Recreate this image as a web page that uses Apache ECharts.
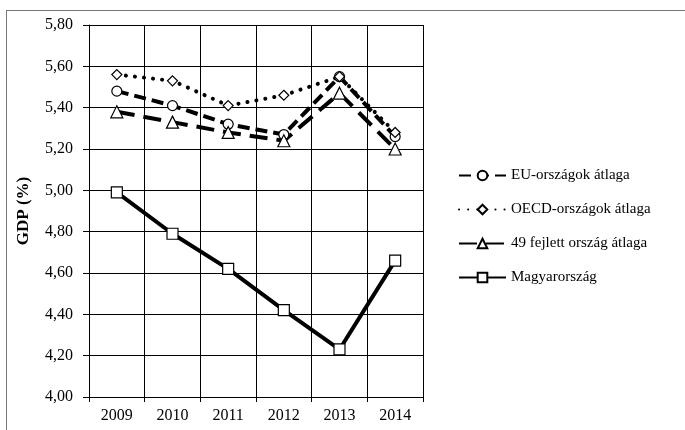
<!DOCTYPE html>
<html lang="hu">
<head>
<meta charset="UTF-8">
<title>GDP (%)</title>
<script src="https://cdn.jsdelivr.net/npm/echarts@6/dist/echarts.min.js"></script>
<style>
  html, body { margin: 0; padding: 0; background: #fff; }
  #frame { position: absolute; left: 6px; top: 10px; width: 700px; height: 440px; border: 1px solid #777; }
  #main { position: absolute; left: 0; top: 0; width: 685px; height: 430px; }
</style>
</head>
<body>
<div id="frame"></div>
<div id="main"></div>
<script>
  // adatok
  var years = ['2009', '2010', '2011', '2012', '2013', '2014'];
  var euAvg = [5.48, 5.41, 5.32, 5.27, 5.55, 5.26];
  var oecdAvg = [5.56, 5.53, 5.41, 5.46, 5.55, 5.28];
  var dev49Avg = [5.38, 5.33, 5.28, 5.24, 5.47, 5.20];
  var hungary = [4.99, 4.79, 4.62, 4.42, 4.23, 4.66];
  var names = ['EU-országok átlaga', 'OECD-országok átlaga', '49 fejlett ország átlaga', 'Magyarország'];

  var font = 'Liberation Serif';

  function line(name, data, symbol, type, size) {
    return {
      name: name,
      type: 'line',
      data: data,
      symbol: symbol,
      symbolSize: size,
      showAllSymbol: true,
      z: name === names[3] ? 3 : 2,
      lineStyle: { color: '#000', width: 4, type: type },
      itemStyle: { color: '#fff', borderColor: '#000', borderWidth: 1.2 }
    };
  }

  var option = {
    animation: false,
    grid: { left: 89, top: 25, right: 262, bottom: 33 },
    legend: {
      orient: 'vertical',
      left: 453,
      top: 163,
      itemWidth: 47,
      itemHeight: 12,
      itemGap: 19,
      data: names,
      textStyle: { fontFamily: font, fontSize: 15, color: '#000' }
    },
    xAxis: {
      type: 'category',
      data: years,
      boundaryGap: true,
      axisLine: { lineStyle: { color: '#000', width: 1 } },
      axisTick: { show: true, length: 5, lineStyle: { color: '#000' } },
      axisLabel: { fontFamily: font, fontSize: 16, color: '#000', margin: 11 },
      splitLine: { show: true, lineStyle: { color: '#000', width: 1 } }
    },
    yAxis: {
      type: 'value',
      min: 4.0,
      max: 5.8,
      interval: 0.2,
      name: 'GDP (%)',
      nameLocation: 'middle',
      nameGap: 57,
      nameTextStyle: { fontFamily: font, fontSize: 17, fontWeight: 'bold', color: '#000' },
      axisLine: { show: true, lineStyle: { color: '#000', width: 1 } },
      axisTick: { show: true, length: 6, lineStyle: { color: '#000' } },
      axisLabel: {
        fontFamily: font, fontSize: 16, color: '#000', margin: 16,
        formatter: function (v) { return v.toFixed(2).replace('.', ','); }
      },
      splitLine: { show: true, lineStyle: { color: '#000', width: 1 } }
    },
    series: [
      line(names[0], euAvg, 'circle', [12, 6], 10),
      line(names[1], oecdAvg, 'diamond', [0.1, 9], 10),
      line(names[2], dev49Avg, 'triangle', [18, 9], 12),
      line(names[3], hungary, 'rect', 'solid', 11)
    ]
  };
  option.series[1].lineStyle.cap = 'round';

  echarts.init(document.getElementById('main')).setOption(option);
</script>
</body>
</html>
